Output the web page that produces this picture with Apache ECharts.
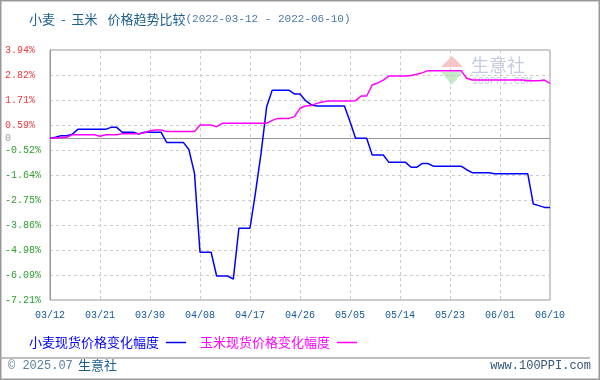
<!DOCTYPE html>
<html><head><meta charset="utf-8">
<script src="https://cdn.jsdelivr.net/npm/echarts@6/dist/echarts.min.js"></script>
<style>html,body{margin:0;padding:0;background:#fff}#c{width:600px;height:380px}</style>
</head><body><div id="c"></div>
<script>
var dates = ["03/12","03/13","03/14","03/15","03/16","03/17","03/18","03/19","03/20","03/21","03/22","03/23","03/24","03/25","03/26","03/27","03/28","03/29","03/30","03/31",
"04/01","04/02","04/03","04/04","04/05","04/06","04/07","04/08","04/09","04/10","04/11","04/12","04/13","04/14","04/15","04/16","04/17","04/18","04/19","04/20","04/21","04/22","04/23","04/24","04/25","04/26","04/27","04/28","04/29","04/30",
"05/01","05/02","05/03","05/04","05/05","05/06","05/07","05/08","05/09","05/10","05/11","05/12","05/13","05/14","05/15","05/16","05/17","05/18","05/19","05/20","05/21","05/22","05/23","05/24","05/25","05/26","05/27","05/28","05/29","05/30","05/31",
"06/01","06/02","06/03","06/04","06/05","06/06","06/07","06/08","06/09","06/10"];
var wheat = [0,0.05,0.12,0.12,0.18,0.40,0.40,0.40,0.40,0.40,0.40,0.49,0.49,0.27,0.27,0.27,0.19,0.27,0.27,0.27,0.27,-0.18,-0.18,-0.18,-0.18,-0.50,-1.55,-5.08,-5.08,-5.08,
-6.14,-6.14,-6.14,-6.28,-4.01,-4.01,-4.01,-2.40,-0.65,1.41,2.15,2.15,2.15,2.15,1.98,1.98,1.68,1.50,1.44,1.44,1.44,1.44,1.44,1.44,0.75,0.00,0.00,0.00,-0.74,-0.74,
-0.74,-1.07,-1.07,-1.07,-1.07,-1.29,-1.29,-1.12,-1.12,-1.24,-1.24,-1.24,-1.24,-1.24,-1.24,-1.40,-1.53,-1.53,-1.53,-1.53,-1.58,-1.58,-1.58,-1.58,-1.58,-1.58,-1.58,-2.93,-3.00,-3.08,-3.08];
var corn = [0,0.02,0.04,0.05,0.16,0.16,0.16,0.16,0.16,0.09,0.16,0.16,0.16,0.21,0.21,0.21,0.21,0.25,0.34,0.37,0.37,0.30,0.30,0.30,0.30,0.30,0.30,0.59,0.59,0.59,
0.52,0.67,0.67,0.67,0.67,0.67,0.67,0.67,0.67,0.67,0.80,0.89,0.89,0.89,0.97,1.34,1.44,1.46,1.56,1.62,1.66,1.66,1.66,1.66,1.66,1.68,1.89,1.89,2.38,2.47,
2.60,2.78,2.78,2.78,2.78,2.80,2.86,2.92,3.02,3.02,3.02,3.02,3.02,3.02,3.02,2.68,2.60,2.60,2.60,2.60,2.60,2.60,2.60,2.60,2.60,2.60,2.57,2.57,2.57,2.60,2.45];
var yTickLabels = ["-7.21%","-6.09%","-4.98%","-3.86%","-2.75%","-1.64%","-0.52%","0.59%","1.71%","2.82%","3.94%"];
var yMin = -7.21, yMax = 3.94;
var seriesNames = ["小麦现货价格变化幅度","玉米现货价格变化幅度"];
var BLUE = "#0000ff", MAG = "#ff00ff";
var MONO = "'Liberation Mono','DejaVu Sans Mono',monospace";
var CJK = "'Noto Sans CJK SC','Noto Sans',sans-serif";

var chart = echarts.init(document.getElementById('c'), null, {renderer:'canvas'});
chart.setOption({
  backgroundColor:'#fff',
  animation:false,
  title:{
    left:24, top:8,
    text:'{a|小麦}{h|-}{c|玉米}{a|价格趋势比较}{b|(2022-03-12 - 2022-06-10)}',
    textStyle:{fontWeight:'normal',rich:{
      a:{fontFamily:CJK,fontSize:13,fontWeight:'normal',color:'#1a5f8f'},
      h:{fontFamily:CJK,fontSize:13,fontWeight:'normal',color:'#1a5f8f',padding:[0,6,0,6]},
      c:{fontFamily:CJK,fontSize:13,fontWeight:'normal',color:'#1a5f8f',padding:[0,10,0,0]},
      b:{fontFamily:MONO,fontSize:11,fontWeight:'normal',color:'#4a7aa6'}
    }}
  },
  legend:{
    left:24, top:331, align:'right', itemGap:14, itemWidth:20, itemHeight:1.5, icon:'rect',
    textStyle:{fontFamily:CJK,fontSize:13,padding:[0,2,0,0]},
    data:[{name:seriesNames[0],textStyle:{color:BLUE}},{name:seriesNames[1],textStyle:{color:MAG}}]
  },
  grid:{left:50,right:50,top:50,bottom:80,show:true,borderColor:'#999',borderWidth:1,backgroundColor:'transparent'},
  xAxis:{
    type:'category', data:dates, boundaryGap:false,
    axisLine:{show:true,lineStyle:{color:'#999'}}, axisTick:{show:false},
    axisLabel:{interval:8,margin:10,color:'#11589a',fontFamily:MONO,fontSize:10},
    splitLine:{show:true,interval:8,lineStyle:{color:'#ccc',type:[3,3]}}
  },
  yAxis:[
    {type:'value',min:yMin,max:yMax,position:'left',
     axisLine:{show:true,lineStyle:{color:'#999'}},axisTick:{show:false},
     axisLabel:{show:false},
     splitLine:{show:false}},
    {type:'value',min:0,max:10,interval:1,position:'left',
     axisLine:{show:false},axisTick:{show:false},
     axisLabel:{align:'left',margin:45,fontFamily:MONO,fontSize:10,
       formatter:function(v){return yTickLabels[Math.round(v)];},
       color:function(v){return Math.round(v)>=7?'#ee3b3b':'#2ea02e';}},
     splitLine:{show:true,lineStyle:{color:'#ccc',type:[3,3]}}}
  ],
  graphic:[
    {type:'rect',shape:{x:0.75,y:0.75,width:598.5,height:378.5},style:{fill:null,stroke:'#999',lineWidth:1.5},silent:true},
    {type:'line',shape:{x1:0,y1:358,x2:590,y2:358},style:{stroke:'#aaa',lineWidth:1.5},silent:true},
    {type:'text',left:8,top:360,style:{text:'© 2025.07',font:'12px '+MONO,fill:'#5a7e9e'},silent:true},
    {type:'text',left:78,top:359,style:{text:'生意社',font:'13px '+CJK,fill:'#1a5f8f'},silent:true},
    {type:'text',right:9,top:360,style:{text:'www.100PPI.com',font:'12px '+MONO,fill:'#335577'},silent:true},
    {type:'polygon',z:-1,shape:{points:[[452,56],[441,67],[463,67]]},style:{fill:'rgba(240,150,150,0.55)'},silent:true},
    {type:'polygon',z:-1,shape:{points:[[441,72],[463,72],[452,85]]},style:{fill:'rgba(150,220,150,0.55)'},silent:true},
    {type:'text',z:-1,left:471,top:56,style:{text:'生意社',font:'18px '+CJK,fill:'rgba(165,175,210,0.65)'},silent:true},
    {type:'text',z:-1,left:472,top:76,style:{text:'100PPI.COM',font:'10px '+MONO,fill:'rgba(165,175,210,0.65)'},silent:true}
  ],
  series:[
    {name:seriesNames[0],type:'line',data:wheat,xAxisIndex:0,yAxisIndex:0,showSymbol:false,symbol:'none',
     lineStyle:{color:BLUE,width:1.5},itemStyle:{color:BLUE},
     markLine:{silent:true,symbol:'none',animation:false,z:1,
       lineStyle:{color:'#999',type:'solid',width:1},
       label:{show:true,position:'start',distance:39,formatter:'0',color:'#999',fontFamily:MONO,fontSize:10},
       data:[{yAxis:0}]}},
    {name:seriesNames[1],type:'line',data:corn,xAxisIndex:0,yAxisIndex:0,showSymbol:false,symbol:'none',
     lineStyle:{color:MAG,width:1.5},itemStyle:{color:MAG}}
  ]
});
</script></body></html>
